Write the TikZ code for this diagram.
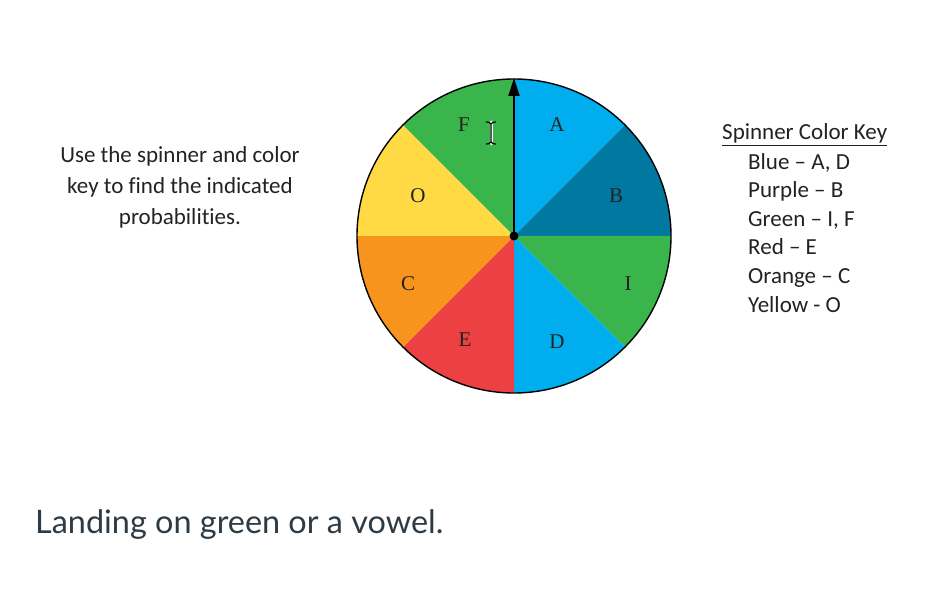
\documentclass[tikz,border=0pt]{standalone}
\usepackage{fontspec}
\setmainfont{Carlito}[Ligatures={NoCommon}]
\newfontfamily\latofont{Lato}
\newfontfamily\letrafont{Liberation Serif}
\usetikzlibrary{arrows.meta}

\definecolor{azul}{RGB}{0,174,239}
\definecolor{morado}{RGB}{0,120,160}
\definecolor{verde}{RGB}{58,181,75}
\definecolor{amarillo}{RGB}{255,218,68}
\definecolor{naranja}{RGB}{247,148,30}
\definecolor{rojo}{RGB}{236,64,66}
\definecolor{tinta}{RGB}{34,34,34}
\definecolor{pizarra}{RGB}{45,59,69}

\begin{document}
\begin{tikzpicture}[x=1pt, y=1pt,
    letra/.style={font=\letrafont\fontsize{21}{21}\selectfont, text=tinta},
    clave/.style={anchor=base west, inner sep=0pt, text=tinta, font=\fontsize{23}{23}\selectfont}]
    \useasboundingbox (0,0) rectangle (932,600);

    % Centro de la ruleta
    \coordinate (centro) at (514,364);

    % Sectores de la ruleta
    \fill[azul] (centro) -- ++(45:157) arc[start angle=45, end angle=90, radius=157] -- cycle;
    \fill[morado] (centro) -- ++(0:157) arc[start angle=0, end angle=45, radius=157] -- cycle;
    \fill[verde] (centro) -- ++(-45:157) arc[start angle=-45, end angle=0, radius=157] -- cycle;
    \fill[azul] (centro) -- ++(-90:157) arc[start angle=-90, end angle=-45, radius=157] -- cycle;
    \fill[rojo] (centro) -- ++(225:157) arc[start angle=225, end angle=270, radius=157] -- cycle;
    \fill[naranja] (centro) -- ++(180:157) arc[start angle=180, end angle=225, radius=157] -- cycle;
    \fill[amarillo] (centro) -- ++(135:157) arc[start angle=135, end angle=180, radius=157] -- cycle;
    \fill[verde] (centro) -- ++(90:157) arc[start angle=90, end angle=135, radius=157] -- cycle;

    % Borde de la ruleta
    \draw[line width=1.4pt] (centro) circle (157);

    % Letras de los sectores
    \node[letra] (A) at (557,475) {A};
    \node[letra] (B) at (616,404) {B};
    \node[letra] (I) at (628,316) {I};
    \node[letra] (D) at (557,258) {D};
    \node[letra] (E) at (465,260) {E};
    \node[letra] (C) at (408,316) {C};
    \node[letra] (O) at (418,404) {O};
    \node[letra] (F) at (464,475) {F};

    % Aguja
    \node[circle, fill=black, inner sep=0pt, minimum size=9pt] (eje) at (centro) {};
    \coordinate (punta) at (514,522);
    \draw[line width=1.8pt, -{Triangle[length=18pt, width=11pt]}] (eje.center) -- (punta);

    % Cursor de texto
    \draw[white, line width=3pt, line cap=round] (491,456) -- (491,478);
    \draw[black, line width=1.2pt] (491,457) -- (491,477)
        (486,478) .. controls (489,478) .. (491,476) .. controls (493,478) .. (496,478)
        (486,456) .. controls (489,456) .. (491,458) .. controls (493,456) .. (496,456);

    % Instrucciones
    \node[align=center, text=tinta, font=\fontsize{23}{31}\selectfont] (instruccion) at (180,413)
        {Use the spinner and color\\ key to find the indicated\\ probabilities.};

    % Clave de colores
    \node[clave] (titulo) at (722,460) {\underline{Spinner Color Key}};
    \node[clave] (azules) at (748,430.5) {Blue -- A, D};
    \node[clave] (morados) at (748,402) {Purple -- B};
    \node[clave] (verdes) at (748,373.5) {Green -- I, F};
    \node[clave] (rojos) at (748,345) {Red -- E};
    \node[clave] (naranjas) at (748,316) {Orange -- C};
    \node[clave] (amarillos) at (748,287.5) {Yellow - O};

    % Pregunta
    \node[anchor=west, inner sep=0pt, text=pizarra, font=\latofont\fontsize{32.4}{32.4}\selectfont] (pregunta) at (35,75)
        {Landing on green or a vowel.};

  \end{tikzpicture}
\end{document}
